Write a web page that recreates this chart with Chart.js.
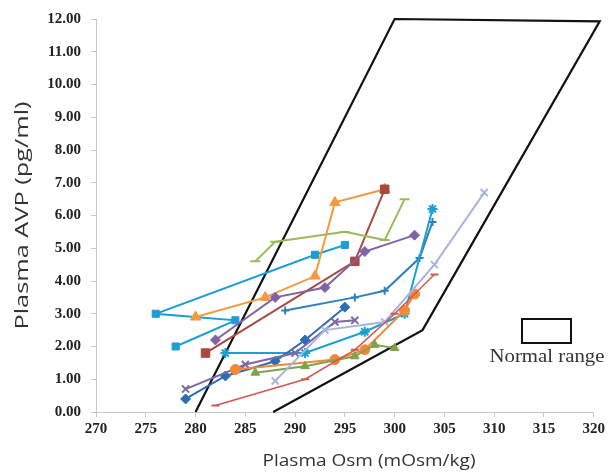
<!DOCTYPE html>
<html>
<head>
<meta charset="utf-8">
<script src="https://cdn.jsdelivr.net/npm/chart.js@4"></script>
<style>
html,body{margin:0;padding:0;background:#fff;}
#wrap{width:608px;height:473px;position:relative;}
</style>
</head>
<body>
<div id="wrap"><canvas id="c" width="608" height="473"></canvas></div>
<script>
// Tick labels
const xTicks = [270, 275, 280, 285, 290, 295, 300, 305, 310, 315, 320];
const yTicks = [0,1,2,3,4,5,6,7,8,9,10,11,12];
const xTitle = 'Plasma Osm (mOsm/kg)';
const yTitle = 'Plasma AVP (pg/ml)';
const legendLabel = 'Normal range';

// Normal range boundary
const normOsm = [280, 300, 320.6, 302.8, 287.8];
const normAvp = [0, 12, 11.93, 2.5, 0];

// Individual subjects (Plasma Osm, Plasma AVP)
const osm1 = [278, 284, 276, 292, 295];
const avp1 = [2.0, 2.8, 3.0, 4.8, 5.1];
const osm2 = [280, 287, 292, 294, 299];
const avp2 = [2.9, 3.5, 4.15, 6.4, 6.8];
const osm3 = [281, 296, 299];
const avp3 = [1.8, 4.6, 6.8];
const osm4 = [282, 288, 293, 297, 302];
const avp4 = [2.2, 3.5, 3.8, 4.9, 5.4];
const osm5 = [286, 288, 295, 299, 301];
const avp5 = [4.6, 5.2, 5.5, 5.25, 6.5];
const osm6 = [289, 296, 299, 302.5, 303.8];
const avp6 = [3.1, 3.5, 3.7, 4.7, 5.8];
const osm7 = [283, 291, 297, 301, 303.8];
const avp7 = [1.8, 1.8, 2.45, 3.0, 6.2];
const osm8 = [279, 283, 288, 291, 295];
const avp8 = [0.4, 1.1, 1.55, 2.2, 3.2];
const osm9 = [279, 285, 290, 294, 296];
const avp9 = [0.7, 1.45, 1.8, 2.75, 2.8];
const osm10 = [284, 294, 297, 301, 302];
const avp10 = [1.3, 1.6, 1.9, 3.1, 3.6];
const osm11 = [286, 291, 296, 298, 300];
const avp11 = [1.2, 1.4, 1.7, 2.05, 1.95];
const osm12 = [282, 291, 296, 300, 304];
const avp12 = [0.2, 1.0, 1.9, 3.0, 4.2];
const osm13 = [288, 293, 299, 304, 309];
const avp13 = [0.95, 2.5, 2.75, 4.5, 6.7];

function pts(xs, ys){ return xs.map((x,i)=>({x:x, y:ys[i]})); }

function series(xs, ys, color, style, r, width){
  return {
    data: pts(xs, ys),
    showLine: true,
    borderColor: color,
    backgroundColor: color,
    borderWidth: width || 2,
    pointStyle: style,
    pointRadius: r,
    pointBorderColor: color,
    pointBackgroundColor: color,
    pointBorderWidth: (style==='crossRot'||style==='cross'||style==='star'||style==='line') ? 2 : 1,
    tension: 0
  };
}

const datasets = [
  series(osm12, avp12, '#D3574D', 'line', 4, 1.5),
  series(osm13, avp13, '#A6B5DF', 'crossRot', 5, 2),
  series(osm11, avp11, '#7FA24A', 'triangle', 5, 2),
  series(osm10, avp10, '#F0893B', 'circle', 5, 2),
  series(osm9, avp9, '#7D69A2', 'crossRot', 5, 2),
  series(osm8, avp8, '#2B6DB4', 'rectRot', 5, 2),
  series(osm7, avp7, '#1DA0D0', 'star', 5, 2),
  series(osm6, avp6, '#2F80C2', 'cross', 4, 2),
  series(osm5, avp5, '#9BBB59', 'line', 5, 2),
  series(osm4, avp4, '#7F63A6', 'rectRot', 5, 2),
  series(osm3, avp3, '#A64A42', 'rect', 6, 2),
  series(osm2, avp2, '#F79A3E', 'triangle', 6, 2),
  series(osm1, avp1, '#1E9DD7', 'rect', 5, 2),
  {
    data: pts(normOsm, normAvp),
    showLine: true,
    borderColor: '#111111',
    borderWidth: 2.2,
    pointRadius: 0,
    tension: 0,
    clip: false
  }
];

// draws stretched text (the reference's text is stretched along its run)
function stretchedText(ctx, text, cx, cy, angle, font, targetWidth, color){
  ctx.save();
  ctx.font = font;
  ctx.fillStyle = color;
  ctx.textAlign = 'center';
  ctx.textBaseline = 'middle';
  const w = ctx.measureText(text).width;
  ctx.translate(cx, cy);
  ctx.rotate(angle);
  ctx.scale(targetWidth / w, 1);
  ctx.fillText(text, 0, 0);
  ctx.restore();
}

const annotations = {
  id: 'annotations',
  afterDraw(chart){
    const ctx = chart.ctx;
    const a = chart.chartArea;
    // legend box for the normal range
    ctx.save();
    ctx.strokeStyle = '#111';
    ctx.lineWidth = 2;
    ctx.strokeRect(522, 319, 49, 24);
    ctx.restore();
    stretchedText(ctx, legendLabel, 547, 357, 0, '18px "Liberation Serif", serif', 115, '#333');
    // axis titles
    stretchedText(ctx, xTitle, 369, 461, 0, '16px "Open Sans", sans-serif', 213, '#333');
    stretchedText(ctx, yTitle, 23, (a.top + a.bottom) / 2, -Math.PI / 2, '18px "Open Sans", sans-serif', 228, '#333');
  }
};

new Chart(document.getElementById('c'), {
  type: 'scatter',
  data: { datasets },
  plugins: [annotations],
  options: {
    responsive: false,
    animation: false,
    layout: { padding: { top: 14, right: 10, left: 0, bottom: 0 } },
    plugins: { legend: { display: false }, tooltip: { enabled: false } },
    scales: {
      x: {
        type: 'linear',
        min: 270, max: 320,
        afterBuildTicks(scale){ scale.ticks = xTicks.map(v=>({value:v})); },
        afterFit(scale){ scale.height = 61; },
        grid: { display: true, drawOnChartArea: false, drawTicks: true, tickLength: 5, color: '#c8c8c8' },
        border: { color: '#c8c8c8' },
        ticks: {
          color: '#222',
          font: { family: '"Liberation Serif", serif', size: 15, weight: 'bold' },
          padding: 3,
          maxRotation: 0
        },
        title: { display: false }
      },
      y: {
        type: 'linear',
        min: 0, max: 12,
        afterBuildTicks(scale){ scale.ticks = yTicks.map(v=>({value:v})); },
        afterFit(scale){ scale.width = 96; },
        grid: { display: true, drawOnChartArea: false, drawTicks: true, tickLength: 5, color: '#c8c8c8' },
        border: { color: '#c8c8c8' },
        ticks: {
          color: '#222',
          font: { family: '"Liberation Serif", serif', size: 15, weight: 'bold' },
          padding: 10,
          callback: v => Number(v).toFixed(2)
        },
        title: { display: false }
      }
    }
  }
});
</script>
</body>
</html>
